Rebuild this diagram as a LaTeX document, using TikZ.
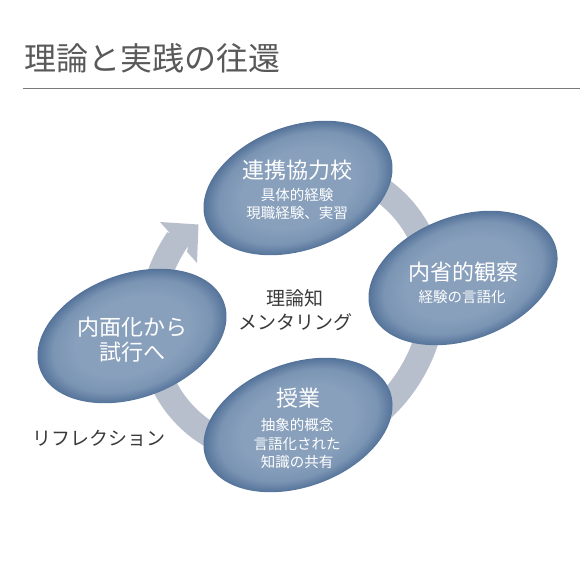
\documentclass[tikz,border=0pt]{standalone}
\usepackage{fontspec}
\setmainfont{Noto Sans CJK JP}
\usepackage{tikz}
\usetikzlibrary{shapes.geometric, calc}
\definecolor{titlegray}{HTML}{595959}
\definecolor{rulegray}{HTML}{7A7A7A}
\definecolor{ringgray}{HTML}{B8BFCC}
\definecolor{ovalin}{HTML}{88A0BC}
\definecolor{ovalmid}{HTML}{7A94B3}
\definecolor{ovaledge}{HTML}{55739A}
\definecolor{notegray}{HTML}{3A3A3A}
\pgfdeclareradialshading{ovalshade}{\pgfpoint{0bp}{0bp}}{%
  color(0bp)=(ovalin); color(15bp)=(ovalin); color(21bp)=(ovalmid);
  color(25bp)=(ovaledge); color(50bp)=(ovaledge)}
\tikzset{
  oval/.style={
    ellipse, shade, shading=ovalshade, minimum width=196,
    minimum height=124, inner sep=0pt
  },
  ovalhead/.style={text=white, align=center, font=\fontsize{22}{25}\selectfont},
  ovalbody/.style={text=white, align=center, font=\fontsize{14.5}{18.5}\selectfont},
  ringband/.style={fill=ringgray},
  sidenote/.style={text=notegray, align=center, font=\fontsize{19}{24}\selectfont}
}

\begin{document}
\begin{tikzpicture}[x=1pt, y=1pt]
\useasboundingbox (0,0) rectangle (580,563);

% ── Title and rule ───────────────────────────────────────────────
\node[anchor=west, inner sep=0pt, text=titlegray, font=\fontsize{32}{36}\selectfont]
  (title) at (24,505) {理論と実践の往還};
\coordinate (rulel) at (23,474.7);
\coordinate (ruler) at (580,474.7);
\draw[rulegray, line width=0.8pt] (rulel) -- (ruler);

% ── Circular arrow behind the ovals ──────────────────────────────
% arrow head corners (left, tip, right) and shaft ends on its base
\coordinate (headl) at (160,341);
\coordinate (headt) at (198.5,338.5);
\coordinate (headr) at (197,300);
\coordinate (shaftl) at (170,329.8);
\coordinate (shaftr) at (187,311.2);
\begin{scope}[shift={(292,253)}, rotate=47]
\fill[ringband] (33:162.5 and 146.5)
  arc[start angle=33, end angle=-260, x radius=162.5, y radius=146.5]
  -- (shaftl) -- (headl) -- (headt) -- (headr) -- (shaftr)
  -- (-260:137.5 and 121.5)
  arc[start angle=-260, end angle=33, x radius=137.5, y radius=121.5] -- cycle;
\end{scope}

% ── Ovals ───────────────────────────────────────────────────────
\foreach \name/\px/\py in {e1/298/375, e2/463/285, e3/132/227, e4/298/138} {
  \begin{scope}[transform canvas={rotate around={20:(\px,\py)}}]
  \node[oval] (\name) at (\px,\py) {};
  \end{scope}
}

\node[ovalhead] (e1head) at (297,393) {連携協力校};
\node[ovalbody] (e1body) at (297,359) {具体的経験\\現職経験、実習};

\node[ovalhead] (e2head) at (463,291) {内省的観察};
\node[ovalbody] (e2body) at (462,266) {経験の言語化};

\node[ovalhead] (e3head) at (132,223.5) {内面化から\\試行へ};

\node[ovalhead] (e4head) at (298,165) {授業};
\node[ovalbody] (e4body) at (297,119.5) {抽象的概念\\言語化された\\知識の共有};

% ── Side notes ──────────────────────────────────────────────────
\node[sidenote] (mentor) at (295,253) {理論知\\メンタリング};
\node[sidenote] (reflect) at (99,125) {リフレクション};

\end{tikzpicture}
\end{document}
